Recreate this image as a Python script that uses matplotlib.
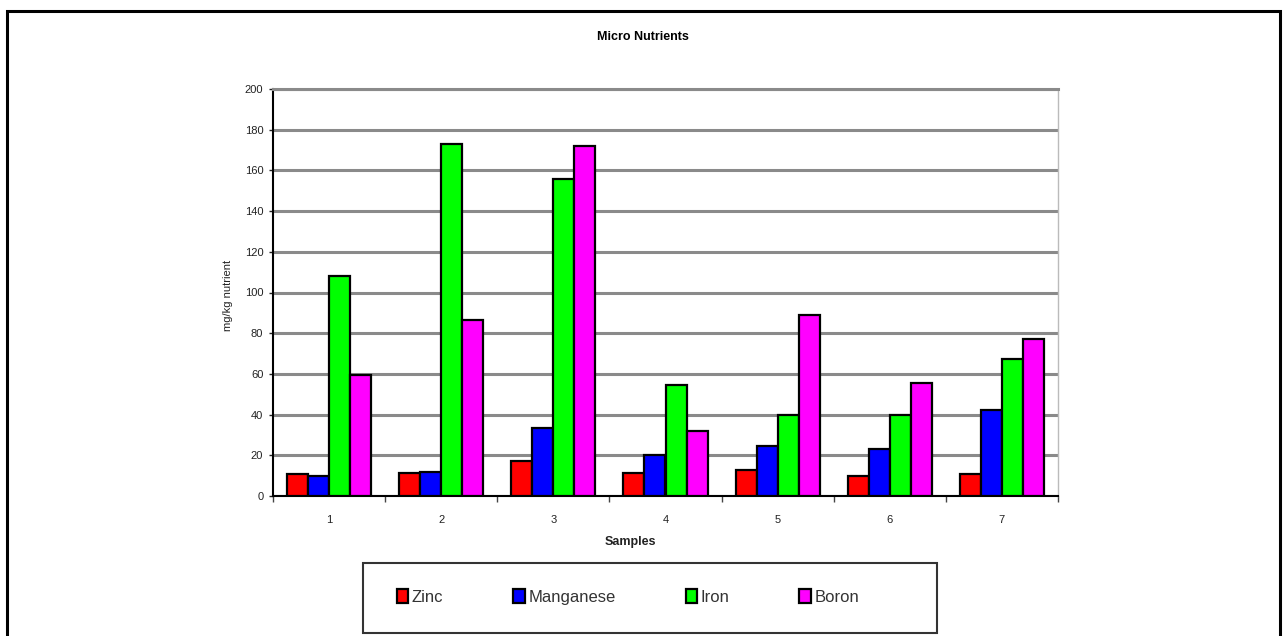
import numpy as np
import matplotlib
matplotlib.use("Agg")
import matplotlib.pyplot as plt
from matplotlib.patches import Rectangle

plt.rcParams['font.family'] = ['Liberation Sans', 'DejaVu Sans']

samples = ["1", "2", "3", "4", "5", "6", "7"]
zinc = [11, 11.5, 17, 11.5, 13, 10, 11]
manganese = [10, 12, 33.5, 20, 24.5, 23, 42.5]
iron = [108, 173, 156, 54.5, 40, 40, 67.5]
boron = [59.5, 86.5, 172, 32, 89, 55.5, 77]

series_names = ["Zinc", "Manganese", "Iron", "Boron"]
series_colors = ["#ff0000", "#0000ff", "#00ff00", "#ff00ff"]

fig = plt.figure(figsize=(12.85, 6.36), dpi=100)

# outer chart border
fig.patches.append(Rectangle((7 / 1285, -0.05), 1273 / 1285, 1.05 - 11 / 636,
                             transform=fig.transFigure, fill=False,
                             edgecolor="black", linewidth=2.2))

ax = fig.add_axes([273 / 1285, 140 / 636, 785 / 1285, 407 / 636])

x = np.arange(len(samples))
w = 0.1875
for i, (vals, name, col) in enumerate(zip([zinc, manganese, iron, boron], series_names, series_colors)):
    ax.bar(x + (i - 1.5) * w, vals, width=w, color=col, edgecolor="black",
           linewidth=1.6, label=name, zorder=3)

ax.set_xlim(-0.5, len(samples) - 0.5)
ax.set_ylim(0, 200)
ax.set_yticks(np.arange(0, 201, 20))
ax.tick_params(axis="y", labelsize=8, length=3, width=1, pad=4, colors="#222222")
ax.set_xticks(x)
ax.set_xticklabels(samples)
ax.set_xticks(np.arange(-0.5, len(samples), 1), minor=True)
ax.tick_params(axis="x", which="major", length=0, labelsize=8, pad=14, colors="#222222")
ax.tick_params(axis="x", which="minor", length=4, width=1, color="#444444")

ax.yaxis.grid(True, color="#8a8a8a", linewidth=2.2, zorder=0)
ax.set_axisbelow(True)
ax.spines["right"].set_color("#bbbbbb")
ax.spines["right"].set_linewidth(1)
ax.spines["top"].set_color("#8a8a8a")
ax.spines["top"].set_linewidth(2.2)
ax.spines["left"].set_linewidth(1.5)
ax.spines["bottom"].set_linewidth(1.5)

fig.text(643 / 1285, 1 - 37 / 636, "Micro Nutrients", ha="center", va="center",
         fontsize=9, fontweight="bold")
fig.text(630 / 1285, 1 - 542 / 636, "Samples", ha="center", va="center",
         fontsize=9, fontweight="bold", color="#222222")
fig.text(228 / 1285, 1 - 295 / 636, "mg/kg nutrient", ha="center", va="center",
         rotation=90, fontsize=8, color="#222222")

# legend box
fig.patches.append(Rectangle((363 / 1285, 3 / 636), 574 / 1285, 70 / 636,
                             transform=fig.transFigure, fill=False,
                             edgecolor="#333333", linewidth=1.5))
fig.legend(loc="center", bbox_to_anchor=(628 / 1285, 1 - 597 / 636), ncol=4,
           frameon=False, fontsize=12, handlelength=0.7, handleheight=0.9,
           handletextpad=0.2, columnspacing=4.2, labelcolor="#333333")

fig.savefig("out.png", dpi=100)
